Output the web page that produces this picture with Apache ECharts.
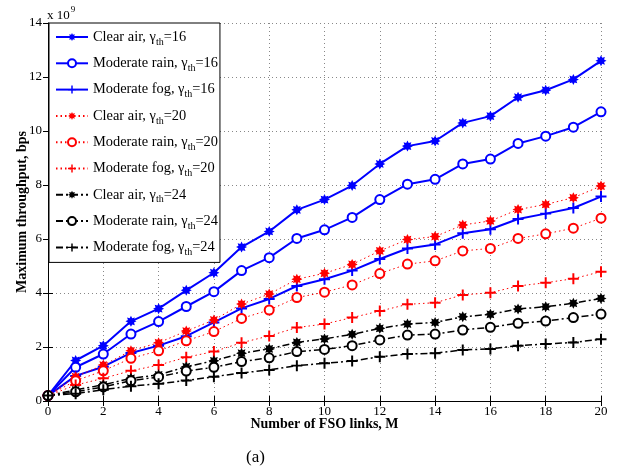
<!DOCTYPE html>
<html>
<head>
<meta charset="utf-8">
<title>Maximum throughput vs number of FSO links</title>
<script src="https://cdn.jsdelivr.net/npm/echarts@6/dist/echarts.min.js"></script>
<style>
  html, body { margin: 0; padding: 0; background: #fff; }
  #chart { width: 618px; height: 472px; }
</style>
</head>
<body>
<div id="chart"></div>
<script>
// number of FSO links
var links = [0, 1, 2, 3, 4, 5, 6, 7, 8, 9, 10, 11, 12, 13, 14, 15, 16, 17, 18, 19, 20];

// maximum throughput, x 10^9 bps
var clear16 = [0.2, 1.5, 2.05, 2.95, 3.42, 4.1, 4.75, 5.7, 6.28, 7.08, 7.46, 7.98, 8.78, 9.44, 9.63, 10.3, 10.55, 11.25, 11.51, 11.91, 12.6];
var rain16  = [0.2, 1.25, 1.74, 2.48, 2.94, 3.5, 4.05, 4.83, 5.31, 6.02, 6.34, 6.8, 7.46, 8.03, 8.21, 8.78, 8.96, 9.54, 9.81, 10.14, 10.71];
var fog16   = [0.2, 0.93, 1.27, 1.78, 2.05, 2.4, 2.91, 3.43, 3.78, 4.26, 4.51, 4.83, 5.26, 5.65, 5.8, 6.21, 6.36, 6.74, 6.94, 7.15, 7.57];
var clear20 = [0.2, 0.9, 1.33, 1.86, 2.16, 2.59, 3.0, 3.59, 3.96, 4.51, 4.73, 5.06, 5.56, 5.98, 6.09, 6.52, 6.67, 7.09, 7.28, 7.53, 7.96];
var rain20  = [0.2, 0.75, 1.12, 1.58, 1.86, 2.23, 2.57, 3.06, 3.37, 3.83, 4.03, 4.3, 4.72, 5.07, 5.19, 5.56, 5.65, 6.02, 6.19, 6.4, 6.77];
var fog20   = [0.2, 0.59, 0.84, 1.12, 1.33, 1.62, 1.83, 2.16, 2.41, 2.72, 2.85, 3.09, 3.33, 3.58, 3.64, 3.93, 4.01, 4.26, 4.38, 4.53, 4.79];
var clear24 = [0.2, 0.41, 0.6, 0.84, 0.97, 1.27, 1.49, 1.77, 1.93, 2.17, 2.3, 2.47, 2.69, 2.85, 2.91, 3.12, 3.21, 3.41, 3.49, 3.62, 3.8];
var rain24  = [0.2, 0.34, 0.52, 0.75, 0.89, 1.11, 1.25, 1.46, 1.6, 1.83, 1.91, 2.05, 2.26, 2.44, 2.48, 2.63, 2.73, 2.88, 2.96, 3.09, 3.22];
var fog24   = [0.2, 0.27, 0.42, 0.55, 0.64, 0.76, 0.9, 1.04, 1.15, 1.31, 1.4, 1.48, 1.64, 1.74, 1.77, 1.89, 1.93, 2.05, 2.11, 2.17, 2.29];

var weathers = ['Clear air', 'Moderate rain', 'Moderate fog'];
var thresholds = ['16', '20', '24'];

var FONT = '"Liberation Serif", "DejaVu Serif", serif';

// asterisk-ish marker (8 point star)
var starPath = (function () {
    var pts = [];
    for (var k = 0; k < 16; k++) {
        var a = k * Math.PI / 8 - Math.PI / 2;
        var r = (k % 2 === 0) ? 10 : 6;
        pts.push((r * Math.cos(a)).toFixed(2) + ',' + (r * Math.sin(a)).toFixed(2));
    }
    return 'path://M' + pts.join('L') + 'Z';
})();
var plusPath = 'path://M-1.8,-10L1.8,-10L1.8,-1.8L10,-1.8L10,1.8L1.8,1.8L1.8,10L-1.8,10L-1.8,1.8L-10,1.8L-10,-1.8L-1.8,-1.8Z';

function pairs(values) {
    return links.map(function (m, i) { return [m, values[i]]; });
}

function makeSeries(name, values, color, lineType, lineWidth, shape) {
    var s = {
        name: name,
        type: 'line',
        data: pairs(values),
        lineStyle: { color: color, width: lineWidth, type: lineType },
        itemStyle: { color: color },
        symbolKeepAspect: true,
        showAllSymbol: true,
        animation: false,
        z: 3
    };
    if (shape === 'star') {
        s.symbol = starPath;
        s.symbolSize = 11;
    } else if (shape === 'circle') {
        s.symbol = 'emptyCircle';
        s.symbolSize = 9;
        s.itemStyle = { color: color, borderColor: color, borderWidth: 2 };
    } else {
        s.symbol = plusPath;
        s.symbolSize = 11;
    }
    return s;
}

function legendName(w, t) {
    return w + ', \u03b3_th=' + t;
}

var shapes = ['star', 'circle', 'plus'];
var valueSets = [
    [clear16, rain16, fog16],
    [clear20, rain20, fog20],
    [clear24, rain24, fog24]
];
var colors = ['#0000ff', '#ff0000', '#000000'];
var lineTypes = ['solid', [1.5, 3], [7, 3, 2, 3]];
var lineWidths = [2, 1, 1.5];

var series = [];
var names = [];
thresholds.forEach(function (t, ti) {
    weathers.forEach(function (w, wi) {
        var n = legendName(w, t);
        names.push(n);
        series.push(makeSeries(n, valueSets[ti][wi], colors[ti], lineTypes[ti], lineWidths[ti], shapes[wi]));
    });
});

var axisCommon = {
    min: 0,
    axisLine: { show: true, lineStyle: { color: '#000', width: 1 } },
    axisTick: { show: true, inside: true, length: 5, lineStyle: { color: '#000' } },
    axisLabel: { color: '#000', fontFamily: FONT, fontSize: 13 }
};

var option = {
    backgroundColor: '#fff',
    animation: false,
    grid: { left: 48, right: 17, top: 23, bottom: 71, show: false, outerBoundsMode: 'none' },
    legend: {
        data: names,
        orient: 'vertical',
        left: 49,
        top: 23,
        width: 170,
        padding: [4, 2, 5, 6],
        itemGap: 6.3,
        itemWidth: 32,
        itemHeight: 10,
        backgroundColor: '#fff',
        borderColor: '#000',
        borderWidth: 1,
        borderRadius: 0,
        formatter: function (n) {
            var p = n.split('_th');
            return '{a|' + p[0] + '}{s|th}{a|' + p[1] + '}';
        },
        textStyle: {
            color: '#000',
            fontFamily: FONT,
            fontSize: 14.4,
            rich: {
                a: { fontFamily: FONT, fontSize: 14.4, color: '#000', lineHeight: 18 },
                s: { fontFamily: FONT, fontSize: 10, color: '#000', padding: [10, 0, 0, 0], lineHeight: 18 }
            }
        }
    },
    xAxis: [
        Object.assign({}, axisCommon, {
            type: 'value', max: 20, interval: 2, position: 'bottom',
            name: 'Number of FSO links, M',
            nameLocation: 'middle', nameGap: 16, nameMoveOverlap: false,
            nameTextStyle: { color: '#000', fontFamily: FONT, fontSize: 14, fontWeight: 'bold', verticalAlign: 'top' },
            axisLabel: { color: '#000', fontFamily: FONT, fontSize: 13, margin: 4 },
            splitLine: { show: true, lineStyle: { color: '#888', type: [1, 3], width: 1 } }
        }),
        Object.assign({}, axisCommon, {
            type: 'value', max: 20, interval: 2, position: 'top',
            axisLabel: { show: false }, splitLine: { show: false }
        })
    ],
    yAxis: [
        Object.assign({}, axisCommon, {
            type: 'value', max: 14, interval: 2, position: 'left',
            name: 'Maximum throughput, bps',
            nameLocation: 'middle', nameGap: 19, nameMoveOverlap: false,
            nameTextStyle: { color: '#000', fontFamily: FONT, fontSize: 14, fontWeight: 'bold' },
            axisLabel: { color: '#000', fontFamily: FONT, fontSize: 13, margin: 6 },
            splitLine: { show: true, lineStyle: { color: '#888', type: [1, 3], width: 1 } }
        }),
        Object.assign({}, axisCommon, {
            type: 'value', max: 14, interval: 2, position: 'right',
            axisLabel: { show: false }, splitLine: { show: false }
        })
    ],
    graphic: [
        {
            type: 'text', left: 47, top: 5,
            style: {
                text: '{a|x 10}{b|9}',
                rich: {
                    a: { fontFamily: FONT, fontSize: 13, fill: '#000', padding: [6, 0, 0, 0] },
                    b: { fontFamily: FONT, fontSize: 9, fill: '#000', padding: [0, 0, 6, 1] }
                }
            }
        },
        {
            type: 'text', left: 246, top: 449,
            style: { text: '(a)', fontFamily: FONT, fontSize: 17, fill: '#000' }
        }
    ],
    series: series
};

var myChart = echarts.init(document.getElementById('chart'), null, { renderer: 'canvas' });
myChart.setOption(option);
</script>
</body>
</html>
